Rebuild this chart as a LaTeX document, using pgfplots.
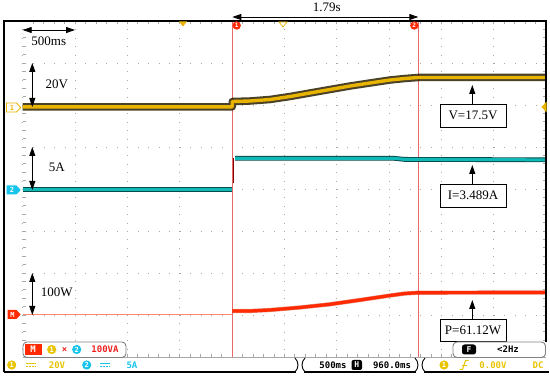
\documentclass[border=0pt]{standalone}
\usepackage{pgfplots}
\pgfplotsset{compat=1.18}
\usepackage{fontspec}
\setmainfont{Liberation Serif}
\newfontfamily\scopefont{DejaVu Sans Mono}
\usetikzlibrary{arrows.meta}
\definecolor{chy}{HTML}{E8B400}
\definecolor{chc}{HTML}{10B8B8}
\definecolor{chr}{HTML}{FF2A00}
\definecolor{cur}{HTML}{E86868}
\definecolor{gridc}{HTML}{A8A8A8}
\definecolor{txy}{HTML}{E8C400}
\definecolor{txc}{HTML}{18C4EC}
\definecolor{txr}{HTML}{F02020}
\begin{document}
\begin{tikzpicture}
\useasboundingbox (0,0) rectangle (550pt,-377pt);
\begin{scope}[x=1pt,y=-1pt]
% grid (dotted)
\foreach \i in {0,...,9} {
  \draw[gridc, line width=0.9pt, dash pattern=on 0.9pt off 7.5pt] ({22.7+52.33*\i},21) -- ({22.7+52.33*\i},357);
}
\foreach \j in {1,...,7} {
  \draw[gridc, line width=0.9pt, dash pattern=on 0.9pt off 9.566pt] (22.7,{21+42*\j}) -- (546,{21+42*\j});
}
% edge ticks
\foreach \k in {1,...,39} {
  \draw[gridc, line width=0.7pt] (22.7,{21+8.4*\k}) -- ++(3,0);
  \draw[gridc, line width=0.7pt] (546,{21+8.4*\k}) -- ++(-3,0);
}
\foreach \k in {1,...,49} {
  \draw[gridc, line width=0.7pt] ({22.7+10.466*\k},21) -- ++(0,3);
  \draw[gridc, line width=0.7pt] ({22.7+10.466*\k},357) -- ++(0,-3);
}
\draw[gridc, line width=0.8pt] (22.7,357) -- (546,357);
% cursors
\draw[cur, line width=0.8pt] (232.3,21) -- (232.3,357);
\draw[cur, line width=0.8pt] (418.3,21) -- (418.3,357);
\end{scope}

\begin{axis}[at={(22.7pt,-357pt)}, anchor=south west, scale only axis,
  width=523.3pt, height=336pt, xmin=0, xmax=10, ymin=0, ymax=8,
  hide axis, clip=false]
% channel 1 (voltage), divisions
\addplot[black!70!chy!60!black, line width=7.5pt, line join=round, opacity=0.85] coordinates {
(0,5.957) (4.005,5.957) (4.005,6.083) (4.343,6.095) (4.725,6.131) (5.108,6.202)
(5.490,6.286) (5.872,6.369) (6.254,6.452) (6.636,6.524) (7.019,6.595) (7.305,6.631)
(7.560,6.655) (10,6.655)};
\addplot[chy, line width=3.4pt, line join=round] coordinates {
(0,5.957) (4.005,5.957) (4.005,6.083) (4.343,6.095) (4.725,6.131) (5.108,6.202)
(5.490,6.286) (5.872,6.369) (6.254,6.452) (6.636,6.524) (7.019,6.595) (7.305,6.631)
(7.560,6.655) (10,6.655)};
% channel 2 (current)
\addplot[black!60!chc, line width=4.8pt] coordinates {(0,3.988) (4.005,3.988)};
\addplot[chc, line width=3pt] coordinates {(0,3.988) (4.005,3.988)};
\addplot[black!60!chc, line width=4.8pt] coordinates {(4.06,4.731) (7.10,4.731) (7.30,4.705) (10,4.695)};
\addplot[chc, line width=3pt] coordinates {(4.06,4.731) (7.10,4.731) (7.30,4.705) (10,4.695)};
\addplot[red!50!black, line width=1.2pt] coordinates {(4.03,4.74) (4.03,4.14)};
% math channel (power)
\addplot[chr!55, line width=0.8pt] coordinates {(0,1.012) (4.005,1.012)};
\addplot[chr!80!black, line width=4.2pt, line join=round, opacity=0.5] coordinates {
(4.005,1.095) (4.343,1.095) (4.725,1.119) (5.299,1.179) (5.872,1.255) (6.446,1.357)
(7.019,1.464) (7.305,1.512) (7.560,1.531) (10,1.536)};
\addplot[chr, line width=3.2pt, line join=round] coordinates {
(4.005,1.095) (4.343,1.095) (4.725,1.119) (5.299,1.179) (5.872,1.255) (6.446,1.357)
(7.019,1.464) (7.305,1.512) (7.560,1.531) (10,1.536)};
\end{axis}

\begin{scope}[x=1pt,y=-1pt, >={Triangle[length=9pt,width=6pt]}]
% frame
\draw[black, line width=1.6pt] (4,372) -- (4,21) -- (546,21) -- (546,342);
% top markers
\fill[chy] (179,21.5) -- (187,21.5) -- (183,26.5) -- cycle;
\draw[chy, line width=0.7pt, fill=white] (279,22) -- (287,22) -- (283,27) -- cycle;
\fill[chy] (546.5,101.5) -- (541.5,107) -- (546.5,112.5) -- cycle;
\fill[chr] (236.7,25.5) circle (4.2);
\node[white, font=\scopefont\bfseries\fontsize{6}{6}\selectfont] at (236.7,25.5) {1};
\fill[chr] (414.3,25.5) circle (4.2);
\node[white, font=\scopefont\bfseries\fontsize{6}{6}\selectfont] at (414.3,25.5) {2};
% channel markers
\draw[chy, line width=0.8pt, fill=white] (6.5,103) -- (16.5,103) -- (20.7,107.5) -- (16.5,112) -- (6.5,112) -- cycle;
\node[chy, font=\scopefont\bfseries\fontsize{7}{7}\selectfont] at (12,107.5) {1};
\fill[txc] (6.5,185.5) -- (16.5,185.5) -- (20.7,190) -- (16.5,194.5) -- (6.5,194.5) -- cycle;
\node[white, font=\scopefont\bfseries\fontsize{7}{7}\selectfont] at (12,190) {2};
\fill[chr] (7.5,310) -- (16.5,310) -- (20.7,314.5) -- (16.5,319) -- (7.5,319) -- cycle;
\node[white, font=\scopefont\bfseries\fontsize{7}{7}\selectfont] at (12.5,314.5) {M};
% arrows and labels
\draw[<->, line width=0.9pt] (22.7,30) -- (75,30);
\node[font=\fontsize{13}{13}\selectfont] at (48.8,41.5) {500ms};
\draw[<->, line width=0.9pt] (232.3,17) -- (418.3,17);
\node[font=\fontsize{13}{13}\selectfont] at (326.7,7.5) {1.79s};
\draw[<->, line width=0.9pt] (32.3,63) -- (32.3,107);
\node[font=\fontsize{13}{13}\selectfont] at (56.7,84) {20V};
\draw[<->, line width=0.9pt] (32.3,147) -- (32.3,190);
\node[font=\fontsize{13}{13}\selectfont] at (56.7,167.5) {5A};
\draw[<->, line width=0.9pt] (32.3,273) -- (32.3,315);
\node[font=\fontsize{13}{13}\selectfont] at (56.7,292.5) {100W};
% annotation boxes
\draw[->, line width=1.1pt] (472.3,104) -- (472.3,85);
\node[draw, line width=0.9pt, fill=white, minimum width=66pt, minimum height=23pt, inner sep=0pt, font=\fontsize{13}{13}\selectfont] at (473,115.5) {V=17.5V};
\draw[->, line width=1.1pt] (472.3,184) -- (472.3,165);
\node[draw, line width=0.9pt, fill=white, minimum width=66pt, minimum height=23pt, inner sep=0pt, font=\fontsize{13}{13}\selectfont] at (473,195.5) {I=3.489A};
\draw[->, line width=1.1pt] (472.3,319) -- (472.3,300);
\node[draw, line width=0.9pt, fill=white, minimum width=66pt, minimum height=22pt, inner sep=0pt, font=\fontsize{13}{13}\selectfont] at (473,330) {P=61.12W};
% math box
\draw[gray, line width=0.9pt, fill=white, rounded corners=4pt] (23,342) rectangle (126,357.5);
\fill[chr] (25,344) rectangle (41.5,355);
\node[white, font=\scopefont\bfseries\fontsize{9}{9}\selectfont] at (33.2,349.5) {M};
\fill[txy] (51.7,349.5) circle (4.6);
\node[white, font=\scopefont\bfseries\fontsize{7}{7}\selectfont] at (51.7,349.5) {1};
\node[txr, font=\scopefont\bfseries\fontsize{9}{9}\selectfont] at (64.5,349.5) {×};
\fill[txc] (76.7,349.5) circle (4.6);
\node[white, font=\scopefont\bfseries\fontsize{7}{7}\selectfont] at (76.7,349.5) {2};
\node[txr, font=\scopefont\bfseries\fontsize{9}{9}\selectfont] at (105,349.5) {100VA};
% F box
\draw[gray, line width=0.9pt, fill=white, rounded corners=4pt] (453,342) rectangle (545.5,357.5);
\fill[black, rounded corners=2.5pt] (462,344.5) rectangle (476,354.5);
\node[white, font=\scopefont\bfseries\fontsize{8}{8}\selectfont] at (469,349.5) {F};
\node[black, font=\scopefont\bfseries\fontsize{9}{9}\selectfont] at (508,349.5) {<2Hz};
% bottom status bar
\draw[black, line width=1.2pt] (4,372) -- (296,372);
\draw[black, line width=0.9pt] (295,358) .. controls (299,362) and (299,368) .. (295,372);
\draw[black, line width=0.9pt] (305,358) .. controls (301,362) and (301,368) .. (305,372);
\draw[black, line width=1.2pt] (304,372) -- (416,372);
\draw[black, line width=0.9pt] (415,358) .. controls (419,362) and (419,368) .. (415,372);
\draw[black, line width=0.9pt] (425,358) .. controls (421,362) and (421,368) .. (425,372);
\draw[black, line width=1.2pt] (424,372) -- (549,372);
\fill[txy] (11.7,365) circle (4.6);
\node[white, font=\scopefont\bfseries\fontsize{7}{7}\selectfont] at (11.7,365) {1};
\draw[txy, line width=1pt] (26,363.3) -- (36,363.3);
\draw[txy, line width=1pt, dash pattern=on 2pt off 1pt] (26,366.3) -- (36,366.3);
\node[txy, font=\scopefont\bfseries\fontsize{9}{9}\selectfont] at (57,365) {20V};
\fill[txc] (86.7,365) circle (4.6);
\node[white, font=\scopefont\bfseries\fontsize{7}{7}\selectfont] at (86.7,365) {2};
\draw[txc, line width=1pt] (100,363.3) -- (110,363.3);
\draw[txc, line width=1pt, dash pattern=on 2pt off 1pt] (100,366.3) -- (110,366.3);
\node[txc, font=\scopefont\bfseries\fontsize{9}{9}\selectfont] at (132,365) {5A};
\node[black, font=\scopefont\bfseries\fontsize{9}{9}\selectfont] at (333,365) {500ms};
\fill[black, rounded corners=2pt] (351.5,360) rectangle (362,370);
\node[white, font=\scopefont\bfseries\fontsize{8}{8}\selectfont] at (356.7,365) {H};
\node[black, font=\scopefont\bfseries\fontsize{9}{9}\selectfont] at (392,365) {960.0ms};
\fill[txy] (444,365) circle (4.6);
\node[white, font=\scopefont\bfseries\fontsize{7}{7}\selectfont] at (444,365) {1};
\draw[txy, line width=1pt] (459.5,369.5) -- (462.5,369.5) -- (465.5,360.5) -- (468.5,360.5);
\draw[txy, line width=0.8pt] (462,365) -- (467,365);
\node[txy, font=\scopefont\bfseries\fontsize{9}{9}\selectfont] at (493,365) {0.00V};
\node[txy, font=\scopefont\bfseries\fontsize{9}{9}\selectfont] at (538,365) {DC};
\end{scope}
\end{tikzpicture}
\end{document}
